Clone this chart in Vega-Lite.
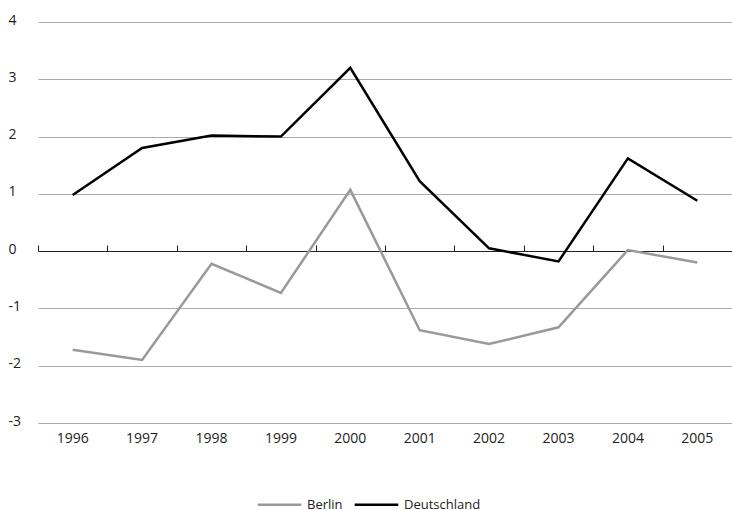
{
  "$schema": "https://vega.github.io/schema/vega-lite/v6.json",
  "width": 694,
  "height": 401,
  "autosize": {"type": "none"},
  "padding": {"left": 38, "top": 22, "right": 0, "bottom": 87},
  "config": {"font": "Open Sans", "view": {"stroke": null}},
  "data": {"values": [
    {"year": "1996", "s": "Berlin", "v": -1.72}, {"year": "1997", "s": "Berlin", "v": -1.9},
    {"year": "1998", "s": "Berlin", "v": -0.22}, {"year": "1999", "s": "Berlin", "v": -0.73},
    {"year": "2000", "s": "Berlin", "v": 1.07}, {"year": "2001", "s": "Berlin", "v": -1.38},
    {"year": "2002", "s": "Berlin", "v": -1.62}, {"year": "2003", "s": "Berlin", "v": -1.33},
    {"year": "2004", "s": "Berlin", "v": 0.02}, {"year": "2005", "s": "Berlin", "v": -0.2},
    {"year": "1996", "s": "Deutschland", "v": 0.98}, {"year": "1997", "s": "Deutschland", "v": 1.8},
    {"year": "1998", "s": "Deutschland", "v": 2.02}, {"year": "1999", "s": "Deutschland", "v": 2.0},
    {"year": "2000", "s": "Deutschland", "v": 3.2}, {"year": "2001", "s": "Deutschland", "v": 1.22},
    {"year": "2002", "s": "Deutschland", "v": 0.05}, {"year": "2003", "s": "Deutschland", "v": -0.18},
    {"year": "2004", "s": "Deutschland", "v": 1.62}, {"year": "2005", "s": "Deutschland", "v": 0.88}
  ]},
  "encoding": {
    "x": {"field": "year", "type": "ordinal", "scale": {"type": "band", "paddingInner": 0, "paddingOuter": 0}, "title": null},
    "y": {"field": "v", "type": "quantitative", "scale": {"domain": [-3, 4]}, "title": null,
      "axis": {"values": [-3, -2, -1, 0, 1, 2, 3, 4], "labelExpr": "datum.value", "domain": false, "ticks": false, "labelFontSize": 14, "labelColor": "#222", "labelAlign": "left", "labelPadding": 30, "gridColor": "#aaa", "labelBaseline": "middle", "labelOffset": -2}}
  },
  "layer": [
    {
      "mark": {"type": "line", "strokeWidth": 2.5},
      "encoding": {
        "x": {"field": "year", "type": "ordinal", "title": null,
          "axis": {"domain": false, "ticks": false, "labelAngle": 0, "labelFontSize": 14, "labelColor": "#222", "labelPadding": 8}},
        "color": {"field": "s", "type": "nominal", "scale": {"domain": ["Berlin", "Deutschland"], "range": ["#999999", "#000000"]},
          "legend": {"orient": "none", "legendX": 218, "legendY": 459, "direction": "horizontal", "title": null, "symbolType": "stroke", "symbolStrokeWidth": 2.5, "symbolSize": 1900, "labelFontSize": 13, "labelColor": "#222", "labelOffset": 4, "columnPadding": 6}}
      }
    },
    {
      "mark": {"type": "rule", "opacity": 0},
      "encoding": {
        "x": {"field": "year", "type": "ordinal", "title": null,
          "axis": {"offset": -229, "labels": false, "domain": true, "domainColor": "#222", "tickColor": "#222", "tickBand": "extent", "tickSize": 6, "grid": false}}
      }
    }
  ],
  "resolve": {"axis": {"x": "independent"}}
}
